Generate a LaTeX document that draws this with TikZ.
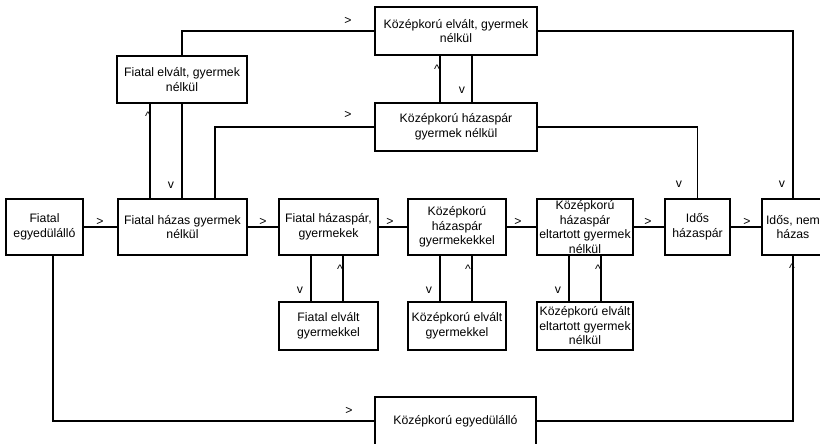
\documentclass[tikz,border=0pt]{standalone}
\usepackage{fontspec}
\setmainfont{Liberation Sans}
\begin{document}
\begin{tikzpicture}[x=0.75pt,y=-0.75pt,
  every node/.style={font=\fontsize{9.2pt}{10.9pt}\selectfont},
  box/.style 2 args={draw,line width=1.5pt,inner sep=0pt,align=center,
    minimum width=#1*0.75pt,minimum height=#2*0.75pt},
  conn/.style={line width=0.8pt},
  lab/.style={inner sep=0pt}]
\useasboundingbox (0,0) rectangle (820,443);
% boxes
\node[box={77}{56}]  (A) at (44.5,227)  {Fiatal\\egyedülálló};
\node[box={129}{56}] (B) at (182.5,227) {Fiatal házas gyermek\\nélkül};
\node[box={99}{56}]  (C) at (328.5,227) {Fiatal házaspár,\\gyermekek};
\node[box={98}{56}]  (D) at (457,227)   {Középkorú\\házaspár\\gyermekekkel};
\node[box={96}{56}]  (E) at (585,227)   {Középkorú\\házaspár\\eltartott gyermek\\nélkül};
\node[box={65}{56}]  (F) at (697.5,227) {Idős\\házaspár};
\node[box={62}{56}]  (G) at (793,227)   {Idős, nem\\házas};
\node[box={99}{48}]  (H) at (328.5,326) {Fiatal elvált\\gyermekkel};
\node[box={98}{48}]  (I) at (457,326)   {Középkorú elvált\\gyermekkel};
\node[box={96}{48}]  (J) at (585,326)   {Középkorú elvált\\eltartott gyermek\\nélkül};
\node[box={130}{47}] (K) at (182,79.5)  {Fiatal elvált, gyermek\\nélkül};
\node[box={162}{48}] (L) at (456,31)    {Középkorú elvált, gyermek\\nélkül};
\node[box={162}{48}] (M) at (456,127)   {Középkorú házaspár\\gyermek nélkül};
\node[box={161}{48}] (N) at (455.5,421) {Középkorú egyedülálló};
% main row connectors
\draw[conn] (A) -- (B);
\draw[conn] (B) -- (C);
\draw[conn] (C) -- (D);
\draw[conn] (D) -- (E);
\draw[conn] (E) -- (F);
\draw[conn] (F) -- (G);
% upper connectors
\draw[conn] (150,0 |- B.north) -- (150,0 |- K.south);
\draw[conn] (182,0 |- B.north) -- (182,0 |- K.south);
\draw[conn] (215,0 |- B.north) |- (M.west);
\draw[conn] (K.north) |- (L.west);
\draw[conn] (440,0 |- L.south) -- (440,0 |- M.north);
\draw[conn] (472,0 |- L.south) -- (472,0 |- M.north);
\draw[conn] (M.east) -| (F.north);
\draw[conn] (L.east) -| (G.north);
% lower connectors
\draw[conn] (311,0 |- C.south) -- (311,0 |- H.north);
\draw[conn] (343,0 |- C.south) -- (343,0 |- H.north);
\draw[conn] (440,0 |- D.south) -- (440,0 |- I.north);
\draw[conn] (472,0 |- D.south) -- (472,0 |- I.north);
\draw[conn] (569,0 |- E.south) -- (569,0 |- J.north);
\draw[conn] (601,0 |- E.south) -- (601,0 |- J.north);
\draw[conn] (53,0 |- A.south) |- (N.west);
\draw[conn] (N.east) -| (G.south);
% labels
\node[lab] (l1) at (100,222) {>};
\node[lab] (l2) at (263,222) {>};
\node[lab] (l3) at (390,222) {>};
\node[lab] (l4) at (518,222) {>};
\node[lab] (l5) at (648,222) {>};
\node[lab] (l6) at (747,222) {>};
\node[lab] (l7) at (148,116) {\^{}};
\node[lab] (l8) at (171,185) {v};
\node[lab] (l9) at (348,115) {>};
\node[lab] (l10) at (348,21) {>};
\node[lab] (l11) at (437,69) {\^{}};
\node[lab] (l12) at (462,90) {v};
\node[lab] (l13) at (679,184) {v};
\node[lab] (l14) at (782,184) {v};
\node[lab] (l15) at (300,290) {v};
\node[lab] (l16) at (340,269) {\^{}};
\node[lab] (l17) at (429,290) {v};
\node[lab] (l18) at (468,269) {\^{}};
\node[lab] (l19) at (558,290) {v};
\node[lab] (l20) at (598,269) {\^{}};
\node[lab] (l21) at (792,268) {\^{}};
\node[lab] (l22) at (349,411) {>};
\end{tikzpicture}
\end{document}
